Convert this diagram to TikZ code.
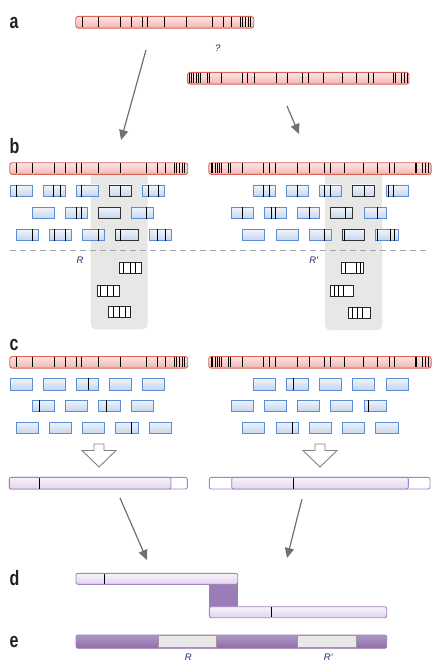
\documentclass[tikz,border=0pt]{standalone}
\usepackage{fontspec}
\usepackage{graphicx}
\setmainfont{Liberation Sans}
\usetikzlibrary{arrows.meta}
\definecolor{redB}{HTML}{DA625B}
\definecolor{redT}{HTML}{FDE6E4}
\definecolor{redL}{HTML}{F3B4B1}
\definecolor{bluB}{HTML}{5B8ED4}
\definecolor{bluT}{HTML}{F0F4FB}
\definecolor{bluL}{HTML}{C6D6EE}
\definecolor{purB}{HTML}{A284C2}
\definecolor{purT}{HTML}{F7F2FA}
\definecolor{purL}{HTML}{E2D5EC}
\definecolor{purD}{HTML}{9B7CB6}
\definecolor{purDL}{HTML}{8E6CAB}
\definecolor{colG}{HTML}{E7E7E5}
\definecolor{arrG}{HTML}{707070}
\definecolor{navy}{HTML}{1F2D6B}
\definecolor{labC}{HTML}{231F20}
\newcommand\lbl[1]{\scalebox{1}[1.3]{#1}}
\tikzset{
  lab/.style={font=\fontsize{16}{16}\selectfont\bfseries, text=labC, inner sep=0pt, anchor=base west},
  small/.style={font=\fontsize{9.5}{10}\selectfont\itshape, text=navy, inner sep=0pt},
  redbar/.style={draw=redB, line width=0.9pt, rounded corners=2.5pt, top color=redT, bottom color=redL, inner sep=0pt, anchor=north west},
  tickline/.style={line width=0.8pt, black},
  rd/.style={draw=bluB, line width=0.7pt, top color=bluT, bottom color=bluL},
  rdk/.style={draw=black!80, line width=0.7pt, top color=bluT, bottom color=bluL},
  frag/.style={draw=black!85, line width=0.8pt, fill=white},
  pout/.style={draw=purB, line width=0.9pt, rounded corners=2pt, fill=white},
  pfill/.style={draw=purB, line width=0.9pt, rounded corners=2pt, top color=purT, bottom color=purL},
  garrow/.style={draw=arrG, line width=1.2pt, -{Triangle[length=10pt,width=9pt]}},
  hollow/.style={draw=black!50, line width=0.9pt, fill=white, line join=miter},
  dashline/.style={draw=black!35, line width=1.2pt, dash pattern=on 6pt off 4pt},
}
% chromosome: name, x, y, width, tick offsets (macro)
\newcommand\chrom[5]{%
  \node[redbar, minimum width=#4pt, minimum height=11.7pt] (#1) at (#2,#3) {};
  \foreach \tk in #5 {\draw[tickline] ({#2+\tk},{#3+1}) -- ({#2+\tk},{#3+10.7});}
}
\newcommand\leftticks{7.4,23,45,56,67,72.4,89,111.4,136.7,148,156.4,164.7,167.4,170,172.7,175}
\newcommand\rightticks{2.7,4.4,6.7,9,11,13.4,20,22.4,34,55,60.7,67.4,89,100.7,115.7,121.7,136,155,169.4,181,186,206.7,208.4,214,217.4,220}
\newcommand\readrow[2]{%
  \foreach \xx in {#2} {\draw[rd] (\xx,#1) rectangle ++(22.4,11.7);}
}
\newcommand\rowticks[2]{%
  \foreach \tt in {#2} {\draw[tickline] (\tt,#1) -- ++(0,11.7);}
}
\newcommand\kread[2]{\draw[rdk] (#1,#2) rectangle ++(22.4,11.7);}
\newcommand\fragbox[3]{%
  \draw[frag] (#1,#2) rectangle ++(22.4,11);
  \foreach \tt in {#3} {\draw[tickline] (\tt,#2) -- ++(0,11);}
}
\begin{document}
\begin{tikzpicture}[x=1pt,y=-1pt]
\useasboundingbox (0,0) rectangle (444,668);

% ---------- a ----------
\node[lab] (la) at (9.5,28.3) {\lbl{a}};
\chrom{ca1}{75.3}{16}{178}{\leftticks}
\chrom{ca2}{187}{72}{221.5}{\rightticks}
\node[small] (q) at (217.7,48.3) {?};
\coordinate (a1s) at (146,50);
\coordinate (a1e) at (121,140);
\coordinate (a2s) at (287,106);
\coordinate (a2e) at (299,134);
\draw[garrow] (a1s) -- (a1e);
\draw[garrow] (a2s) -- (a2e);

% ---------- b ----------
\node[lab] (lb) at (9.5,154) {\lbl{b}};
\fill[colG, rounded corners=5pt] (90.7,166) rectangle (147.7,329.3);
\fill[colG, rounded corners=5pt] (325,166) rectangle (382.3,330);
\chrom{cb1}{9.3}{162.3}{178}{\leftticks}
\chrom{cb2}{208.3}{162.3}{222.4}{\rightticks}
% left reads
\readrow{185}{10,43.3,76.3,142.3}
\kread{109.3}{185}
\rowticks{185}{16,53.5,60,81.7,120.7,148,158}
\readrow{207}{32,65,131}
\kread{98}{207}
\rowticks{207}{76.3,81.7,146}
\readrow{229}{16,49,82,149}
\kread{115.5}{229}
\rowticks{229}{32.3,54.3,65.3,98.3,120.7,157.3,165.7}
% right reads
\readrow{185}{253.3,286.3,319.3,386.3}
\kread{352.3}{185}
\rowticks{185}{263.3,269,297.3,324,330,364,388.7,393.3}
\readrow{207}{231.3,264.3,297.3,364.3}
\kread{330.3}{207}
\rowticks{207}{242.3,271,275.7,309,345,377.7}
\readrow{229}{242.3,276.3,309.3,375.7}
\kread{342.3}{229}
\rowticks{229}{324,344.3,377.7,390,394.3}
% dashed separator
\coordinate (dl) at (10,250.7);
\coordinate (dr) at (430,250.7);
\draw[dashline] (dl) -- (dr);
\node[small] (rl) at (80,260.7) {R};
\node[small] (rr) at (313.8,260.7) {R′};
% fragments
\fragbox{119.3}{262.3}{123.3,130,135.7}
\fragbox{97.3}{285}{100,107.3,113.3}
\fragbox{108.3}{306.7}{113.3,119.3,125}
\fragbox{341.3}{262.3}{345.7,356.7,360}
\fragbox{330.7}{285.3}{334.3,338.3,343.3}
\fragbox{348.3}{307.3}{352.7,357.3,362.3}

% ---------- c ----------
\node[lab] (lc) at (9.5,350.5) {\lbl{c}};
\chrom{cc1}{9.3}{356}{178}{\leftticks}
\chrom{cc2}{208.3}{356}{222.4}{\rightticks}
\readrow{378.3}{10,43.3,76.3,109.3,142.3}
\rowticks{378.3}{88.3}
\readrow{400}{32,65,98,131}
\rowticks{400}{39.3,106.7}
\readrow{422}{16,49,82,115.5,149}
\rowticks{422}{131.7}
\readrow{378.3}{253.3,286.3,319.3,352.3,386.3}
\rowticks{378.3}{293.3}
\readrow{400}{231.3,264.3,297.3,330.3,364.3}
\rowticks{400}{368.3}
\readrow{422}{242.3,276.3,309.3,342.3,375.7}
\rowticks{422}{292.7}
% hollow arrows
\draw[hollow] (94,444) -- (104,444) -- (104,450.5) -- (116,450.5) -- (99,467) -- (82,450.5) -- (94,450.5) -- cycle;
\draw[hollow] (315,444) -- (325,444) -- (325,450.5) -- (337,450.5) -- (320,467) -- (303,450.5) -- (315,450.5) -- cycle;
% assembled contigs
\draw[pout] (9.3,477.3) rectangle (187.3,489);
\draw[pfill] (9.3,477.3) rectangle (171,489);
\draw[tickline] (39.3,477.8) -- (39.3,488.5);
\draw[pout] (209.3,477.3) rectangle (430,489);
\draw[pfill] (231.7,477.3) rectangle (408.3,489);
\draw[tickline] (293.3,477.8) -- (293.3,488.5);
\coordinate (a3s) at (120,498);
\coordinate (a3e) at (147,560);
\coordinate (a4s) at (302,499);
\coordinate (a4e) at (287,558);
\draw[garrow] (a3s) -- (a3e);
\draw[garrow] (a4s) -- (a4e);

% ---------- d ----------
\node[lab] (ld) at (9.5,585.5) {\lbl{d}};
\fill[purD] (209.3,583) rectangle (237.7,608);
\draw[pfill] (76,573.3) rectangle (237.7,584.3);
\draw[tickline] (104.3,573.8) -- (104.3,583.8);
\draw[pfill] (209.3,606.7) rectangle (386.7,617.7);
\draw[tickline] (271.7,607.2) -- (271.7,617.2);

% ---------- e ----------
\node[lab] (le) at (9.5,647.5) {\lbl{e}};
\draw[draw=purD, line width=0.8pt, rounded corners=2pt, top color=purD!80, bottom color=purDL] (76,635) rectangle (386.7,648.3);
\draw[draw=black!40, line width=0.6pt, fill=black!9] (158.3,635.6) rectangle (216.7,647.7);
\draw[draw=black!40, line width=0.6pt, fill=black!9] (297.3,635.6) rectangle (356,647.7);
\node[small] (er) at (188.3,657.7) {R};
\node[small] (err) at (328.3,657.7) {R′};
\end{tikzpicture}
\end{document}
